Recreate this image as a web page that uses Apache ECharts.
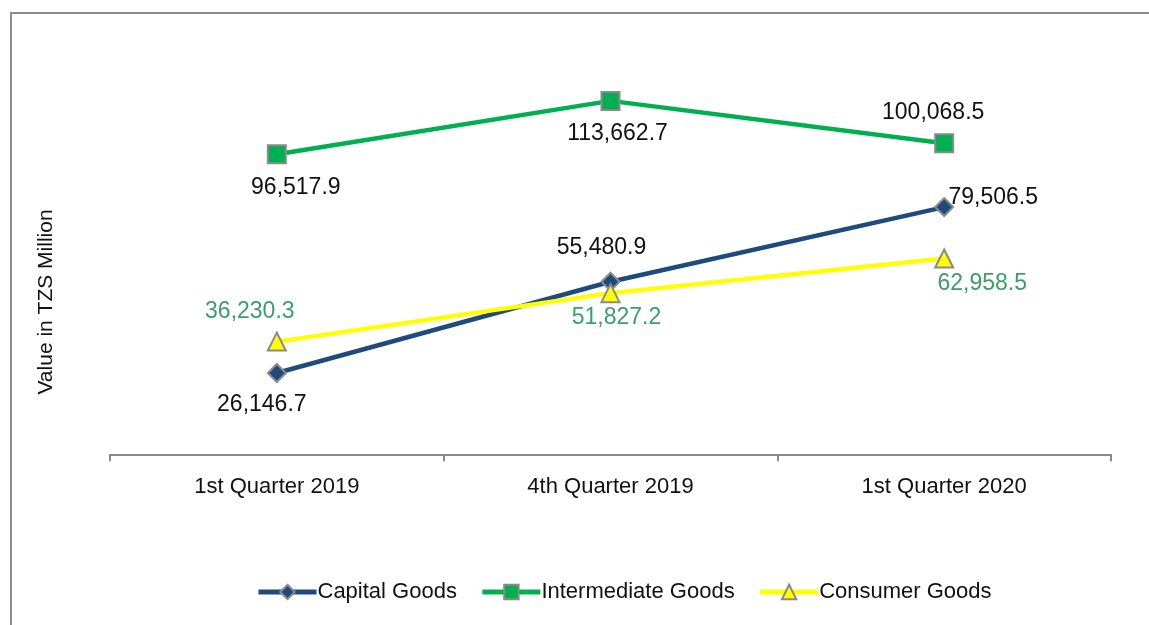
<!DOCTYPE html>
<html>
<head>
<meta charset="utf-8">
<title>Imports by end use</title>
<script src="https://cdn.jsdelivr.net/npm/echarts@6.0.0/dist/echarts.min.js"></script>
<style>
	html,body{margin:0;padding:0;background:#fff;}
	#main{width:1149px;height:625px;}
</style>
</head>
<body>
<div id="main"></div>
<script>
//数据
var categories = ['1st Quarter 2019', '4th Quarter 2019', '1st Quarter 2020'];
var capitalGoods = [26146.7, 55480.9, 79506.5];
var intermediateGoods = [96517.9, 113662.7, 100068.5];
var consumerGoods = [36230.3, 51827.2, 62958.5];
var yAxisTitle = 'Value in TZS Million';

var FONT = '"Liberation Sans", Arial, sans-serif';

//标签相对点的偏移
var capitalOffsets = [[-15, 32], [-9, -34], [49, -9]];
var intermediateOffsets = [[19, 33], [7, 33], [-11, -30]];
var consumerOffsets = [[-27, -30], [6, 25], [38, 25]];

function fmt(v){
	return v.toLocaleString('en-US', {minimumFractionDigits: 1, maximumFractionDigits: 1});
}

function buildData(values, offsets, color){
	var arr = [];
	for(var i=0;i<values.length;i++){
		arr.push({
			value: values[i],
			label: {
				show: true,
				position: 'inside',
				offset: offsets[i],
				color: color,
				fontSize: 23,
				fontFamily: FONT,
				formatter: function(p){ return fmt(p.value); }
			}
		});
	}
	return arr;
}

function makeSeries(name, values, offsets, lineColor, symbol, size, labelColor){
	return {
		name: name,
		type: 'line',
		data: buildData(values, offsets, labelColor),
		symbol: symbol,
		symbolSize: size,
		showAllSymbol: true,
		lineStyle: {color: lineColor, width: 4.5},
		itemStyle: {color: lineColor, borderColor: '#8a8a8a', borderWidth: 2},
		emphasis: {disabled: true},
		z: 3
	};
}

var chart = echarts.init(document.getElementById('main'));
chart.setOption({
	animation: false,
	backgroundColor: '#fff',
	graphic: [{
		type: 'rect',
		shape: {x: 11, y: 13, width: 1200, height: 700},
		style: {fill: 'none', stroke: '#8c8c8c', lineWidth: 2},
		silent: true
	}, {
		//纵轴标题
		type: 'text',
		x: 46,
		y: 302,
		rotation: Math.PI / 2,
		style: {
			text: yAxisTitle,
			fontSize: 21,
			fontFamily: FONT,
			fill: '#111',
			align: 'center',
			verticalAlign: 'middle'
		},
		silent: true
	}],
	grid: {left: 110, right: 38, top: 19, bottom: 169},
	legend: {
		bottom: 17,
		left: 251,
		itemWidth: 58,
		itemHeight: 18,
		itemGap: 23,
		lineStyle: {width: 5},
		textStyle: {fontSize: 22, fontFamily: FONT, color: '#111', padding: [0, 0, 0, -4]},
		data: ['Capital Goods', 'Intermediate Goods', 'Consumer Goods']
	},
	xAxis: {
		type: 'category',
		data: categories,
		boundaryGap: true,
		axisLine: {lineStyle: {color: '#888', width: 2}},
		axisTick: {show: true, length: 7, lineStyle: {color: '#888', width: 2}},
		axisLabel: {fontSize: 22, fontFamily: FONT, color: '#111', margin: 20}
	},
	yAxis: {
		type: 'value',
		min: -560,
		max: 140000,
		axisLine: {show: false},
		axisTick: {show: false},
		axisLabel: {show: false},
		splitLine: {show: false}
	},
	series: [
		makeSeries('Capital Goods', capitalGoods, capitalOffsets, '#1f4a7e', 'diamond', 18, '#111'),
		makeSeries('Intermediate Goods', intermediateGoods, intermediateOffsets, '#00b050', 'rect', 18, '#111'),
		makeSeries('Consumer Goods', consumerGoods, consumerOffsets, '#ffff00', 'triangle', 18, '#3a9e6c')
	]
});
</script>
</body>
</html>
